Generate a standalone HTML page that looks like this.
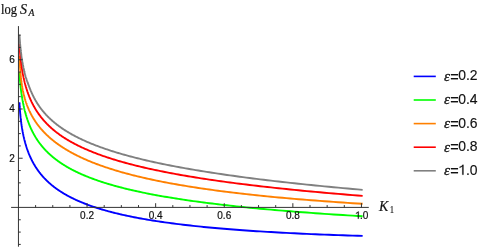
<!DOCTYPE html>
<html><head><meta charset="utf-8"><style>
html,body{margin:0;padding:0;background:#fff;}
svg{display:block;will-change:transform;opacity:0.999}
text{font-family:"Liberation Sans",sans-serif;}
.sf text{font-family:"Liberation Serif",serif;}
</style></head><body>
<svg width="486" height="249" viewBox="0 0 486 249">
<rect width="486" height="249" fill="#fff"/>
<g fill="none" stroke-width="1.9" stroke-linejoin="round" stroke-linecap="butt">
<path d="M19.41 102.31 L19.42 102.58 L19.44 102.85 L19.45 103.12 L19.47 103.39 L19.48 103.67 L19.50 103.94 L19.51 104.21 L19.53 104.48 L19.55 104.75 L19.56 105.02 L19.58 105.29 L19.60 105.57 L19.61 105.84 L19.63 106.11 L19.65 106.38 L19.67 106.65 L19.68 106.92 L19.70 107.20 L19.72 107.47 L19.74 107.74 L19.76 108.02 L19.78 108.29 L19.80 108.56 L19.82 108.84 L19.84 109.11 L19.86 109.39 L19.88 109.66 L19.90 109.94 L19.92 110.21 L19.94 110.49 L19.97 110.77 L19.99 111.05 L20.01 111.32 L20.04 111.60 L20.06 111.88 L20.08 112.16 L20.11 112.44 L20.13 112.72 L20.16 113.01 L20.18 113.29 L20.21 113.57 L20.23 113.85 L20.26 114.14 L20.29 114.42 L20.31 114.71 L20.34 114.99 L20.37 115.28 L20.40 115.57 L20.43 115.86 L20.46 116.15 L20.49 116.44 L20.52 116.73 L20.55 117.02 L20.58 117.31 L20.61 117.60 L20.64 117.89 L20.68 118.19 L20.71 118.48 L20.74 118.78 L20.78 119.08 L20.81 119.37 L20.85 119.67 L20.88 119.97 L20.92 120.27 L20.95 120.57 L20.99 120.87 L21.03 121.17 L21.07 121.48 L21.11 121.78 L21.15 122.08 L21.19 122.39 L21.23 122.70 L21.27 123.00 L21.31 123.31 L21.35 123.62 L21.39 123.93 L21.44 124.24 L21.48 124.55 L21.53 124.86 L21.57 125.18 L21.62 125.49 L21.67 125.81 L21.71 126.12 L21.76 126.44 L21.81 126.76 L21.86 127.08 L21.91 127.39 L21.96 127.71 L22.02 128.04 L22.07 128.36 L22.12 128.68 L22.18 129.00 L22.23 129.33 L22.29 129.65 L22.35 129.98 L22.40 130.31 L22.46 130.64 L22.52 130.97 L22.58 131.30 L22.64 131.63 L22.71 131.96 L22.77 132.29 L22.83 132.62 L22.90 132.96 L22.96 133.29 L23.03 133.63 L23.10 133.97 L23.17 134.30 L23.24 134.64 L23.31 134.98 L23.38 135.32 L23.46 135.67 L23.53 136.01 L23.61 136.35 L23.68 136.70 L23.76 137.04 L23.84 137.39 L23.92 137.73 L24.00 138.08 L24.08 138.43 L24.17 138.78 L24.25 139.13 L24.34 139.48 L24.42 139.83 L24.51 140.18 L24.60 140.54 L24.69 140.89 L24.79 141.25 L24.88 141.60 L24.98 141.96 L25.07 142.32 L25.17 142.68 L25.27 143.03 L25.37 143.39 L25.48 143.76 L25.58 144.12 L25.69 144.48 L25.79 144.84 L25.90 145.21 L26.01 145.57 L26.13 145.94 L26.24 146.30 L26.36 146.67 L26.47 147.04 L26.59 147.41 L26.71 147.78 L26.84 148.15 L26.96 148.52 L27.09 148.89 L27.21 149.26 L27.34 149.64 L27.48 150.01 L27.61 150.39 L27.75 150.76 L27.89 151.14 L28.03 151.52 L28.17 151.89 L28.31 152.27 L28.46 152.65 L28.61 153.03 L28.76 153.41 L28.91 153.79 L29.07 154.17 L29.22 154.55 L29.38 154.94 L29.55 155.32 L29.71 155.71 L29.88 156.09 L30.05 156.48 L30.22 156.86 L30.39 157.25 L30.57 157.64 L30.75 158.02 L30.93 158.41 L31.12 158.80 L31.31 159.19 L31.50 159.58 L31.69 159.97 L31.89 160.36 L32.09 160.75 L32.29 161.15 L32.50 161.54 L32.71 161.93 L32.92 162.33 L33.13 162.72 L33.35 163.12 L33.57 163.51 L33.80 163.91 L34.02 164.30 L34.26 164.70 L34.49 165.10 L34.73 165.49 L34.97 165.89 L35.22 166.29 L35.46 166.69 L35.72 167.09 L35.97 167.49 L36.23 167.89 L36.50 168.29 L36.77 168.69 L37.04 169.09 L37.31 169.49 L37.59 169.89 L37.88 170.29 L38.17 170.70 L38.46 171.10 L38.76 171.50 L39.06 171.90 L39.36 172.31 L39.68 172.71 L39.99 173.11 L40.31 173.52 L40.63 173.92 L40.96 174.33 L41.30 174.73 L41.64 175.14 L41.98 175.54 L42.33 175.95 L42.69 176.35 L43.05 176.76 L43.41 177.16 L43.78 177.57 L44.16 177.97 L44.54 178.38 L44.93 178.78 L45.32 179.19 L45.72 179.60 L46.12 180.00 L46.54 180.41 L46.95 180.81 L47.38 181.22 L47.81 181.62 L48.24 182.03 L48.68 182.44 L49.13 182.84 L49.59 183.25 L50.05 183.65 L50.52 184.06 L51.00 184.46 L51.48 184.87 L51.97 185.27 L52.47 185.68 L52.97 186.08 L53.49 186.49 L54.01 186.89 L54.53 187.30 L55.07 187.70 L55.61 188.11 L56.17 188.51 L56.73 188.91 L57.29 189.31 L57.87 189.72 L58.46 190.12 L59.05 190.52 L59.65 190.92 L60.27 191.32 L60.89 191.73 L61.52 192.13 L62.16 192.53 L62.81 192.93 L63.46 193.33 L64.13 193.72 L64.81 194.12 L65.50 194.52 L66.20 194.92 L66.91 195.31 L67.63 195.71 L68.36 196.11 L69.10 196.50 L69.85 196.90 L70.61 197.29 L71.39 197.68 L72.17 198.08 L72.97 198.47 L73.78 198.86 L74.60 199.25 L75.44 199.64 L76.28 200.03 L77.14 200.42 L78.01 200.81 L78.90 201.20 L79.80 201.58 L80.71 201.97 L81.63 202.35 L82.57 202.74 L83.52 203.12 L84.49 203.50 L85.47 203.88 L86.46 204.26 L87.47 204.64 L88.50 205.02 L89.54 205.40 L90.60 205.78 L91.67 206.15 L92.75 206.53 L93.86 206.90 L94.98 207.27 L96.11 207.64 L97.27 208.02 L98.44 208.38 L99.63 208.75 L100.83 209.12 L102.05 209.49 L103.30 209.85 L104.56 210.21 L105.83 210.58 L107.13 210.94 L108.45 211.30 L109.79 211.66 L111.14 212.01 L112.52 212.37 L113.92 212.72 L115.33 213.08 L116.77 213.43 L118.23 213.78 L119.71 214.13 L121.22 214.48 L122.74 214.82 L124.29 215.17 L125.86 215.51 L127.46 215.85 L129.08 216.19 L130.72 216.53 L132.39 216.87 L134.08 217.20 L135.80 217.53 L137.54 217.87 L139.31 218.20 L141.10 218.53 L142.92 218.85 L144.77 219.18 L146.65 219.50 L148.55 219.82 L150.48 220.14 L152.45 220.46 L154.44 220.78 L156.45 221.09 L158.50 221.40 L160.58 221.71 L162.69 222.02 L164.84 222.33 L167.01 222.63 L169.22 222.93 L171.46 223.23 L173.73 223.53 L176.03 223.83 L178.37 224.12 L180.75 224.42 L183.16 224.71 L185.60 224.99 L188.09 225.28 L190.61 225.56 L193.16 225.84 L195.76 226.12 L198.39 226.40 L201.06 226.67 L203.77 226.94 L206.53 227.21 L209.32 227.48 L212.15 227.75 L215.03 228.01 L217.95 228.27 L220.91 228.53 L223.92 228.78 L226.97 229.03 L230.07 229.28 L233.21 229.53 L236.40 229.77 L239.63 230.02 L242.92 230.26 L246.25 230.49 L249.64 230.73 L253.07 230.96 L256.55 231.19 L260.09 231.41 L263.68 231.63 L267.32 231.85 L271.01 232.07 L274.76 232.28 L278.57 232.50 L282.43 232.70 L286.35 232.91 L290.33 233.11 L294.37 233.31 L298.47 233.51 L302.63 233.70 L306.85 233.89 L311.13 234.08 L315.47 234.26 L319.89 234.44 L324.36 234.62 L328.90 234.79 L333.51 234.96 L338.19 235.13 L342.94 235.30 L347.76 235.46 L352.65 235.61 L357.61 235.77 L362.65 235.92" stroke="#0000ff"/>
<path d="M19.41 72.21 L19.42 72.48 L19.44 72.76 L19.45 73.03 L19.47 73.29 L19.48 73.56 L19.50 73.83 L19.51 74.09 L19.53 74.36 L19.55 74.62 L19.56 74.88 L19.58 75.14 L19.60 75.40 L19.61 75.66 L19.63 75.92 L19.65 76.18 L19.67 76.44 L19.68 76.70 L19.70 76.96 L19.72 77.22 L19.74 77.47 L19.76 77.73 L19.78 77.99 L19.80 78.25 L19.82 78.51 L19.84 78.76 L19.86 79.02 L19.88 79.28 L19.90 79.54 L19.92 79.80 L19.94 80.06 L19.97 80.32 L19.99 80.58 L20.01 80.85 L20.04 81.11 L20.06 81.37 L20.08 81.64 L20.11 81.90 L20.13 82.17 L20.16 82.43 L20.18 82.70 L20.21 82.97 L20.23 83.24 L20.26 83.51 L20.29 83.78 L20.31 84.05 L20.34 84.32 L20.37 84.60 L20.40 84.87 L20.43 85.15 L20.46 85.43 L20.49 85.70 L20.52 85.98 L20.55 86.26 L20.58 86.54 L20.61 86.83 L20.64 87.11 L20.68 87.40 L20.71 87.68 L20.74 87.97 L20.78 88.26 L20.81 88.55 L20.85 88.84 L20.88 89.13 L20.92 89.42 L20.95 89.72 L20.99 90.01 L21.03 90.31 L21.07 90.61 L21.11 90.91 L21.15 91.21 L21.19 91.51 L21.23 91.81 L21.27 92.11 L21.31 92.42 L21.35 92.73 L21.39 93.03 L21.44 93.34 L21.48 93.65 L21.53 93.96 L21.57 94.28 L21.62 94.59 L21.67 94.91 L21.71 95.22 L21.76 95.54 L21.81 95.86 L21.86 96.18 L21.91 96.50 L21.96 96.82 L22.02 97.15 L22.07 97.47 L22.12 97.80 L22.18 98.12 L22.23 98.45 L22.29 98.78 L22.35 99.11 L22.40 99.45 L22.46 99.78 L22.52 100.11 L22.58 100.45 L22.64 100.79 L22.71 101.12 L22.77 101.46 L22.83 101.80 L22.90 102.14 L22.96 102.49 L23.03 102.83 L23.10 103.18 L23.17 103.52 L23.24 103.87 L23.31 104.22 L23.38 104.57 L23.46 104.92 L23.53 105.27 L23.61 105.62 L23.68 105.97 L23.76 106.33 L23.84 106.69 L23.92 107.04 L24.00 107.40 L24.08 107.76 L24.17 108.12 L24.25 108.48 L24.34 108.84 L24.42 109.21 L24.51 109.57 L24.60 109.93 L24.69 110.30 L24.79 110.67 L24.88 111.04 L24.98 111.40 L25.07 111.77 L25.17 112.15 L25.27 112.52 L25.37 112.89 L25.48 113.26 L25.58 113.64 L25.69 114.01 L25.79 114.39 L25.90 114.77 L26.01 115.15 L26.13 115.52 L26.24 115.90 L26.36 116.28 L26.47 116.67 L26.59 117.05 L26.71 117.43 L26.84 117.82 L26.96 118.20 L27.09 118.59 L27.21 118.97 L27.34 119.36 L27.48 119.75 L27.61 120.14 L27.75 120.53 L27.89 120.92 L28.03 121.31 L28.17 121.70 L28.31 122.09 L28.46 122.49 L28.61 122.88 L28.76 123.27 L28.91 123.67 L29.07 124.07 L29.22 124.46 L29.38 124.86 L29.55 125.26 L29.71 125.66 L29.88 126.06 L30.05 126.46 L30.22 126.86 L30.39 127.26 L30.57 127.66 L30.75 128.06 L30.93 128.47 L31.12 128.87 L31.31 129.27 L31.50 129.68 L31.69 130.08 L31.89 130.49 L32.09 130.90 L32.29 131.30 L32.50 131.71 L32.71 132.12 L32.92 132.53 L33.13 132.93 L33.35 133.34 L33.57 133.75 L33.80 134.16 L34.02 134.57 L34.26 134.99 L34.49 135.40 L34.73 135.81 L34.97 136.22 L35.22 136.63 L35.46 137.05 L35.72 137.46 L35.97 137.87 L36.23 138.29 L36.50 138.70 L36.77 139.12 L37.04 139.53 L37.31 139.95 L37.59 140.37 L37.88 140.78 L38.17 141.20 L38.46 141.62 L38.76 142.03 L39.06 142.45 L39.36 142.87 L39.68 143.29 L39.99 143.70 L40.31 144.12 L40.63 144.54 L40.96 144.96 L41.30 145.38 L41.64 145.80 L41.98 146.22 L42.33 146.64 L42.69 147.06 L43.05 147.48 L43.41 147.90 L43.78 148.32 L44.16 148.74 L44.54 149.16 L44.93 149.58 L45.32 150.00 L45.72 150.42 L46.12 150.84 L46.54 151.26 L46.95 151.68 L47.38 152.11 L47.81 152.53 L48.24 152.95 L48.68 153.37 L49.13 153.79 L49.59 154.21 L50.05 154.63 L50.52 155.05 L51.00 155.48 L51.48 155.90 L51.97 156.32 L52.47 156.74 L52.97 157.16 L53.49 157.58 L54.01 158.00 L54.53 158.42 L55.07 158.85 L55.61 159.27 L56.17 159.69 L56.73 160.11 L57.29 160.53 L57.87 160.95 L58.46 161.37 L59.05 161.79 L59.65 162.21 L60.27 162.63 L60.89 163.05 L61.52 163.47 L62.16 163.89 L62.81 164.30 L63.46 164.72 L64.13 165.14 L64.81 165.56 L65.50 165.98 L66.20 166.40 L66.91 166.81 L67.63 167.23 L68.36 167.65 L69.10 168.06 L69.85 168.48 L70.61 168.90 L71.39 169.31 L72.17 169.73 L72.97 170.14 L73.78 170.56 L74.60 170.97 L75.44 171.39 L76.28 171.80 L77.14 172.21 L78.01 172.63 L78.90 173.04 L79.80 173.45 L80.71 173.86 L81.63 174.27 L82.57 174.68 L83.52 175.09 L84.49 175.50 L85.47 175.91 L86.46 176.32 L87.47 176.73 L88.50 177.14 L89.54 177.55 L90.60 177.95 L91.67 178.36 L92.75 178.76 L93.86 179.17 L94.98 179.57 L96.11 179.98 L97.27 180.38 L98.44 180.79 L99.63 181.19 L100.83 181.59 L102.05 181.99 L103.30 182.39 L104.56 182.79 L105.83 183.19 L107.13 183.59 L108.45 183.99 L109.79 184.38 L111.14 184.78 L112.52 185.18 L113.92 185.57 L115.33 185.97 L116.77 186.36 L118.23 186.75 L119.71 187.15 L121.22 187.54 L122.74 187.93 L124.29 188.32 L125.86 188.71 L127.46 189.10 L129.08 189.49 L130.72 189.87 L132.39 190.26 L134.08 190.64 L135.80 191.03 L137.54 191.41 L139.31 191.80 L141.10 192.18 L142.92 192.56 L144.77 192.94 L146.65 193.32 L148.55 193.70 L150.48 194.08 L152.45 194.45 L154.44 194.83 L156.45 195.20 L158.50 195.58 L160.58 195.95 L162.69 196.32 L164.84 196.69 L167.01 197.06 L169.22 197.43 L171.46 197.80 L173.73 198.17 L176.03 198.54 L178.37 198.90 L180.75 199.27 L183.16 199.63 L185.60 199.99 L188.09 200.35 L190.61 200.71 L193.16 201.07 L195.76 201.43 L198.39 201.79 L201.06 202.14 L203.77 202.50 L206.53 202.85 L209.32 203.20 L212.15 203.55 L215.03 203.90 L217.95 204.25 L220.91 204.60 L223.92 204.95 L226.97 205.29 L230.07 205.64 L233.21 205.98 L236.40 206.32 L239.63 206.66 L242.92 207.00 L246.25 207.34 L249.64 207.68 L253.07 208.01 L256.55 208.35 L260.09 208.68 L263.68 209.01 L267.32 209.34 L271.01 209.67 L274.76 210.00 L278.57 210.33 L282.43 210.65 L286.35 210.97 L290.33 211.30 L294.37 211.62 L298.47 211.94 L302.63 212.26 L306.85 212.57 L311.13 212.89 L315.47 213.20 L319.89 213.52 L324.36 213.83 L328.90 214.14 L333.51 214.45 L338.19 214.75 L342.94 215.06 L347.76 215.36 L352.65 215.66 L357.61 215.97 L362.65 216.27" stroke="#00ff00"/>
<path d="M19.41 55.68 L19.42 56.00 L19.44 56.31 L19.45 56.64 L19.47 56.96 L19.48 57.29 L19.50 57.61 L19.51 57.94 L19.53 58.28 L19.55 58.61 L19.56 58.95 L19.58 59.28 L19.60 59.62 L19.61 59.96 L19.63 60.30 L19.65 60.65 L19.67 60.99 L19.68 61.33 L19.70 61.68 L19.72 62.02 L19.74 62.37 L19.76 62.72 L19.78 63.06 L19.80 63.41 L19.82 63.76 L19.84 64.11 L19.86 64.46 L19.88 64.80 L19.90 65.15 L19.92 65.50 L19.94 65.85 L19.97 66.20 L19.99 66.55 L20.01 66.90 L20.04 67.24 L20.06 67.59 L20.08 67.94 L20.11 68.29 L20.13 68.63 L20.16 68.98 L20.18 69.33 L20.21 69.67 L20.23 70.02 L20.26 70.36 L20.29 70.71 L20.31 71.05 L20.34 71.40 L20.37 71.74 L20.40 72.08 L20.43 72.43 L20.46 72.77 L20.49 73.11 L20.52 73.45 L20.55 73.79 L20.58 74.13 L20.61 74.47 L20.64 74.81 L20.68 75.15 L20.71 75.49 L20.74 75.82 L20.78 76.16 L20.81 76.50 L20.85 76.83 L20.88 77.17 L20.92 77.50 L20.95 77.84 L20.99 78.17 L21.03 78.51 L21.07 78.84 L21.11 79.17 L21.15 79.50 L21.19 79.83 L21.23 80.17 L21.27 80.50 L21.31 80.83 L21.35 81.16 L21.39 81.49 L21.44 81.81 L21.48 82.14 L21.53 82.47 L21.57 82.80 L21.62 83.13 L21.67 83.45 L21.71 83.78 L21.76 84.11 L21.81 84.43 L21.86 84.76 L21.91 85.09 L21.96 85.41 L22.02 85.74 L22.07 86.06 L22.12 86.39 L22.18 86.71 L22.23 87.04 L22.29 87.36 L22.35 87.68 L22.40 88.01 L22.46 88.33 L22.52 88.66 L22.58 88.98 L22.64 89.30 L22.71 89.63 L22.77 89.95 L22.83 90.27 L22.90 90.60 L22.96 90.92 L23.03 91.24 L23.10 91.57 L23.17 91.89 L23.24 92.21 L23.31 92.54 L23.38 92.86 L23.46 93.19 L23.53 93.51 L23.61 93.83 L23.68 94.16 L23.76 94.48 L23.84 94.81 L23.92 95.13 L24.00 95.46 L24.08 95.78 L24.17 96.11 L24.25 96.43 L24.34 96.76 L24.42 97.08 L24.51 97.41 L24.60 97.74 L24.69 98.06 L24.79 98.39 L24.88 98.72 L24.98 99.05 L25.07 99.37 L25.17 99.70 L25.27 100.03 L25.37 100.36 L25.48 100.69 L25.58 101.02 L25.69 101.35 L25.79 101.68 L25.90 102.01 L26.01 102.35 L26.13 102.68 L26.24 103.01 L26.36 103.34 L26.47 103.68 L26.59 104.01 L26.71 104.35 L26.84 104.68 L26.96 105.02 L27.09 105.36 L27.21 105.69 L27.34 106.03 L27.48 106.37 L27.61 106.71 L27.75 107.05 L27.89 107.39 L28.03 107.73 L28.17 108.07 L28.31 108.41 L28.46 108.76 L28.61 109.10 L28.76 109.44 L28.91 109.79 L29.07 110.13 L29.22 110.48 L29.38 110.83 L29.55 111.17 L29.71 111.52 L29.88 111.87 L30.05 112.22 L30.22 112.57 L30.39 112.92 L30.57 113.28 L30.75 113.63 L30.93 113.98 L31.12 114.34 L31.31 114.69 L31.50 115.05 L31.69 115.41 L31.89 115.76 L32.09 116.12 L32.29 116.48 L32.50 116.84 L32.71 117.20 L32.92 117.56 L33.13 117.93 L33.35 118.29 L33.57 118.65 L33.80 119.02 L34.02 119.38 L34.26 119.75 L34.49 120.12 L34.73 120.49 L34.97 120.85 L35.22 121.22 L35.46 121.60 L35.72 121.97 L35.97 122.34 L36.23 122.71 L36.50 123.09 L36.77 123.46 L37.04 123.84 L37.31 124.22 L37.59 124.59 L37.88 124.97 L38.17 125.35 L38.46 125.73 L38.76 126.11 L39.06 126.49 L39.36 126.88 L39.68 127.26 L39.99 127.65 L40.31 128.03 L40.63 128.42 L40.96 128.81 L41.30 129.19 L41.64 129.58 L41.98 129.97 L42.33 130.36 L42.69 130.75 L43.05 131.15 L43.41 131.54 L43.78 131.93 L44.16 132.33 L44.54 132.72 L44.93 133.12 L45.32 133.52 L45.72 133.92 L46.12 134.31 L46.54 134.71 L46.95 135.12 L47.38 135.52 L47.81 135.92 L48.24 136.32 L48.68 136.73 L49.13 137.13 L49.59 137.54 L50.05 137.94 L50.52 138.35 L51.00 138.76 L51.48 139.16 L51.97 139.57 L52.47 139.98 L52.97 140.39 L53.49 140.80 L54.01 141.22 L54.53 141.63 L55.07 142.04 L55.61 142.46 L56.17 142.87 L56.73 143.29 L57.29 143.70 L57.87 144.12 L58.46 144.54 L59.05 144.96 L59.65 145.37 L60.27 145.79 L60.89 146.21 L61.52 146.63 L62.16 147.06 L62.81 147.48 L63.46 147.90 L64.13 148.32 L64.81 148.75 L65.50 149.17 L66.20 149.59 L66.91 150.02 L67.63 150.44 L68.36 150.87 L69.10 151.30 L69.85 151.72 L70.61 152.15 L71.39 152.58 L72.17 153.01 L72.97 153.44 L73.78 153.86 L74.60 154.29 L75.44 154.72 L76.28 155.15 L77.14 155.58 L78.01 156.01 L78.90 156.45 L79.80 156.88 L80.71 157.31 L81.63 157.74 L82.57 158.17 L83.52 158.61 L84.49 159.04 L85.47 159.47 L86.46 159.90 L87.47 160.34 L88.50 160.77 L89.54 161.20 L90.60 161.64 L91.67 162.07 L92.75 162.51 L93.86 162.94 L94.98 163.37 L96.11 163.81 L97.27 164.24 L98.44 164.68 L99.63 165.11 L100.83 165.54 L102.05 165.98 L103.30 166.41 L104.56 166.85 L105.83 167.28 L107.13 167.71 L108.45 168.15 L109.79 168.58 L111.14 169.01 L112.52 169.45 L113.92 169.88 L115.33 170.31 L116.77 170.74 L118.23 171.18 L119.71 171.61 L121.22 172.04 L122.74 172.47 L124.29 172.90 L125.86 173.33 L127.46 173.76 L129.08 174.19 L130.72 174.62 L132.39 175.05 L134.08 175.47 L135.80 175.90 L137.54 176.33 L139.31 176.75 L141.10 177.18 L142.92 177.60 L144.77 178.03 L146.65 178.45 L148.55 178.87 L150.48 179.30 L152.45 179.72 L154.44 180.14 L156.45 180.56 L158.50 180.98 L160.58 181.39 L162.69 181.81 L164.84 182.23 L167.01 182.64 L169.22 183.06 L171.46 183.47 L173.73 183.88 L176.03 184.29 L178.37 184.70 L180.75 185.11 L183.16 185.52 L185.60 185.93 L188.09 186.33 L190.61 186.74 L193.16 187.14 L195.76 187.54 L198.39 187.94 L201.06 188.34 L203.77 188.74 L206.53 189.14 L209.32 189.53 L212.15 189.93 L215.03 190.32 L217.95 190.71 L220.91 191.10 L223.92 191.48 L226.97 191.87 L230.07 192.25 L233.21 192.64 L236.40 193.02 L239.63 193.40 L242.92 193.77 L246.25 194.15 L249.64 194.52 L253.07 194.90 L256.55 195.27 L260.09 195.63 L263.68 196.00 L267.32 196.36 L271.01 196.73 L274.76 197.09 L278.57 197.45 L282.43 197.80 L286.35 198.15 L290.33 198.51 L294.37 198.86 L298.47 199.20 L302.63 199.55 L306.85 199.89 L311.13 200.23 L315.47 200.57 L319.89 200.90 L324.36 201.24 L328.90 201.57 L333.51 201.89 L338.19 202.22 L342.94 202.54 L347.76 202.86 L352.65 203.18 L357.61 203.49 L362.65 203.81" stroke="#ff8000"/>
<path d="M19.41 43.59 L19.42 43.85 L19.44 44.10 L19.45 44.35 L19.47 44.61 L19.48 44.86 L19.50 45.12 L19.51 45.37 L19.53 45.63 L19.55 45.88 L19.56 46.14 L19.58 46.39 L19.60 46.65 L19.61 46.91 L19.63 47.16 L19.65 47.42 L19.67 47.68 L19.68 47.94 L19.70 48.20 L19.72 48.46 L19.74 48.72 L19.76 48.98 L19.78 49.24 L19.80 49.50 L19.82 49.77 L19.84 50.03 L19.86 50.30 L19.88 50.56 L19.90 50.83 L19.92 51.10 L19.94 51.36 L19.97 51.63 L19.99 51.90 L20.01 52.17 L20.04 52.45 L20.06 52.72 L20.08 52.99 L20.11 53.27 L20.13 53.54 L20.16 53.82 L20.18 54.10 L20.21 54.37 L20.23 54.65 L20.26 54.93 L20.29 55.22 L20.31 55.50 L20.34 55.78 L20.37 56.07 L20.40 56.35 L20.43 56.64 L20.46 56.93 L20.49 57.22 L20.52 57.51 L20.55 57.80 L20.58 58.09 L20.61 58.38 L20.64 58.68 L20.68 58.97 L20.71 59.27 L20.74 59.57 L20.78 59.87 L20.81 60.17 L20.85 60.47 L20.88 60.77 L20.92 61.07 L20.95 61.38 L20.99 61.68 L21.03 61.99 L21.07 62.29 L21.11 62.60 L21.15 62.91 L21.19 63.22 L21.23 63.54 L21.27 63.85 L21.31 64.16 L21.35 64.48 L21.39 64.79 L21.44 65.11 L21.48 65.43 L21.53 65.75 L21.57 66.07 L21.62 66.39 L21.67 66.71 L21.71 67.04 L21.76 67.36 L21.81 67.69 L21.86 68.02 L21.91 68.34 L21.96 68.67 L22.02 69.00 L22.07 69.34 L22.12 69.67 L22.18 70.00 L22.23 70.34 L22.29 70.67 L22.35 71.01 L22.40 71.35 L22.46 71.68 L22.52 72.02 L22.58 72.36 L22.64 72.71 L22.71 73.05 L22.77 73.39 L22.83 73.74 L22.90 74.08 L22.96 74.43 L23.03 74.78 L23.10 75.13 L23.17 75.48 L23.24 75.83 L23.31 76.18 L23.38 76.53 L23.46 76.88 L23.53 77.24 L23.61 77.59 L23.68 77.95 L23.76 78.31 L23.84 78.67 L23.92 79.02 L24.00 79.38 L24.08 79.75 L24.17 80.11 L24.25 80.47 L24.34 80.83 L24.42 81.20 L24.51 81.56 L24.60 81.93 L24.69 82.30 L24.79 82.67 L24.88 83.04 L24.98 83.41 L25.07 83.78 L25.17 84.15 L25.27 84.52 L25.37 84.90 L25.48 85.27 L25.58 85.64 L25.69 86.02 L25.79 86.40 L25.90 86.78 L26.01 87.15 L26.13 87.53 L26.24 87.91 L26.36 88.29 L26.47 88.68 L26.59 89.06 L26.71 89.44 L26.84 89.83 L26.96 90.21 L27.09 90.60 L27.21 90.98 L27.34 91.37 L27.48 91.76 L27.61 92.15 L27.75 92.54 L27.89 92.93 L28.03 93.32 L28.17 93.71 L28.31 94.10 L28.46 94.49 L28.61 94.89 L28.76 95.28 L28.91 95.68 L29.07 96.07 L29.22 96.47 L29.38 96.87 L29.55 97.26 L29.71 97.66 L29.88 98.06 L30.05 98.46 L30.22 98.86 L30.39 99.26 L30.57 99.66 L30.75 100.07 L30.93 100.47 L31.12 100.87 L31.31 101.28 L31.50 101.68 L31.69 102.09 L31.89 102.49 L32.09 102.90 L32.29 103.31 L32.50 103.72 L32.71 104.12 L32.92 104.53 L33.13 104.94 L33.35 105.35 L33.57 105.76 L33.80 106.18 L34.02 106.59 L34.26 107.00 L34.49 107.41 L34.73 107.83 L34.97 108.24 L35.22 108.65 L35.46 109.07 L35.72 109.48 L35.97 109.90 L36.23 110.32 L36.50 110.73 L36.77 111.15 L37.04 111.57 L37.31 111.99 L37.59 112.40 L37.88 112.82 L38.17 113.24 L38.46 113.66 L38.76 114.08 L39.06 114.51 L39.36 114.93 L39.68 115.35 L39.99 115.77 L40.31 116.19 L40.63 116.62 L40.96 117.04 L41.30 117.46 L41.64 117.89 L41.98 118.31 L42.33 118.74 L42.69 119.16 L43.05 119.59 L43.41 120.01 L43.78 120.44 L44.16 120.87 L44.54 121.29 L44.93 121.72 L45.32 122.15 L45.72 122.58 L46.12 123.00 L46.54 123.43 L46.95 123.86 L47.38 124.29 L47.81 124.72 L48.24 125.15 L48.68 125.58 L49.13 126.01 L49.59 126.44 L50.05 126.87 L50.52 127.30 L51.00 127.74 L51.48 128.17 L51.97 128.60 L52.47 129.03 L52.97 129.46 L53.49 129.90 L54.01 130.33 L54.53 130.76 L55.07 131.19 L55.61 131.63 L56.17 132.06 L56.73 132.49 L57.29 132.93 L57.87 133.36 L58.46 133.80 L59.05 134.23 L59.65 134.67 L60.27 135.10 L60.89 135.54 L61.52 135.97 L62.16 136.41 L62.81 136.84 L63.46 137.28 L64.13 137.71 L64.81 138.15 L65.50 138.58 L66.20 139.02 L66.91 139.45 L67.63 139.89 L68.36 140.33 L69.10 140.76 L69.85 141.20 L70.61 141.63 L71.39 142.07 L72.17 142.51 L72.97 142.94 L73.78 143.38 L74.60 143.82 L75.44 144.25 L76.28 144.69 L77.14 145.13 L78.01 145.56 L78.90 146.00 L79.80 146.44 L80.71 146.87 L81.63 147.31 L82.57 147.75 L83.52 148.18 L84.49 148.62 L85.47 149.05 L86.46 149.49 L87.47 149.93 L88.50 150.36 L89.54 150.80 L90.60 151.24 L91.67 151.67 L92.75 152.11 L93.86 152.54 L94.98 152.98 L96.11 153.41 L97.27 153.85 L98.44 154.29 L99.63 154.72 L100.83 155.16 L102.05 155.59 L103.30 156.03 L104.56 156.46 L105.83 156.90 L107.13 157.33 L108.45 157.76 L109.79 158.20 L111.14 158.63 L112.52 159.07 L113.92 159.50 L115.33 159.93 L116.77 160.37 L118.23 160.80 L119.71 161.23 L121.22 161.67 L122.74 162.10 L124.29 162.53 L125.86 162.96 L127.46 163.39 L129.08 163.83 L130.72 164.26 L132.39 164.69 L134.08 165.12 L135.80 165.55 L137.54 165.98 L139.31 166.41 L141.10 166.84 L142.92 167.27 L144.77 167.70 L146.65 168.13 L148.55 168.56 L150.48 168.98 L152.45 169.41 L154.44 169.84 L156.45 170.27 L158.50 170.69 L160.58 171.12 L162.69 171.55 L164.84 171.97 L167.01 172.40 L169.22 172.82 L171.46 173.25 L173.73 173.67 L176.03 174.10 L178.37 174.52 L180.75 174.94 L183.16 175.37 L185.60 175.79 L188.09 176.21 L190.61 176.63 L193.16 177.06 L195.76 177.48 L198.39 177.90 L201.06 178.32 L203.77 178.74 L206.53 179.15 L209.32 179.57 L212.15 179.99 L215.03 180.41 L217.95 180.83 L220.91 181.24 L223.92 181.66 L226.97 182.08 L230.07 182.49 L233.21 182.91 L236.40 183.32 L239.63 183.73 L242.92 184.15 L246.25 184.56 L249.64 184.97 L253.07 185.38 L256.55 185.79 L260.09 186.21 L263.68 186.62 L267.32 187.02 L271.01 187.43 L274.76 187.84 L278.57 188.25 L282.43 188.66 L286.35 189.06 L290.33 189.47 L294.37 189.87 L298.47 190.28 L302.63 190.68 L306.85 191.09 L311.13 191.49 L315.47 191.89 L319.89 192.29 L324.36 192.69 L328.90 193.09 L333.51 193.49 L338.19 193.89 L342.94 194.29 L347.76 194.69 L352.65 195.09 L357.61 195.48 L362.65 195.88" stroke="#ff0000"/>
<path d="M19.44 34.71 L19.44 34.75 L19.45 35.00 L19.47 35.26 L19.48 35.51 L19.50 35.77 L19.51 36.02 L19.53 36.28 L19.55 36.53 L19.56 36.79 L19.58 37.04 L19.60 37.30 L19.61 37.56 L19.63 37.81 L19.65 38.07 L19.67 38.33 L19.68 38.59 L19.70 38.85 L19.72 39.11 L19.74 39.37 L19.76 39.63 L19.78 39.89 L19.80 40.15 L19.82 40.42 L19.84 40.68 L19.86 40.95 L19.88 41.21 L19.90 41.48 L19.92 41.75 L19.94 42.01 L19.97 42.28 L19.99 42.55 L20.01 42.82 L20.04 43.10 L20.06 43.37 L20.08 43.64 L20.11 43.92 L20.13 44.19 L20.16 44.47 L20.18 44.75 L20.21 45.02 L20.23 45.30 L20.26 45.58 L20.29 45.87 L20.31 46.15 L20.34 46.43 L20.37 46.72 L20.40 47.00 L20.43 47.29 L20.46 47.58 L20.49 47.87 L20.52 48.16 L20.55 48.45 L20.58 48.74 L20.61 49.03 L20.64 49.33 L20.68 49.62 L20.71 49.92 L20.74 50.22 L20.78 50.52 L20.81 50.82 L20.85 51.12 L20.88 51.42 L20.92 51.72 L20.95 52.03 L20.99 52.33 L21.03 52.64 L21.07 52.94 L21.11 53.25 L21.15 53.56 L21.19 53.87 L21.23 54.19 L21.27 54.50 L21.31 54.81 L21.35 55.13 L21.39 55.44 L21.44 55.76 L21.48 56.08 L21.53 56.40 L21.57 56.72 L21.62 57.04 L21.67 57.36 L21.71 57.69 L21.76 58.01 L21.81 58.34 L21.86 58.67 L21.91 58.99 L21.96 59.32 L22.02 59.65 L22.07 59.99 L22.12 60.32 L22.18 60.65 L22.23 60.99 L22.29 61.32 L22.35 61.66 L22.40 62.00 L22.46 62.33 L22.52 62.67 L22.58 63.01 L22.64 63.36 L22.71 63.70 L22.77 64.04 L22.83 64.39 L22.90 64.73 L22.96 65.08 L23.03 65.43 L23.10 65.78 L23.17 66.13 L23.24 66.48 L23.31 66.83 L23.38 67.18 L23.46 67.53 L23.53 67.89 L23.61 68.24 L23.68 68.60 L23.76 68.96 L23.84 69.32 L23.92 69.67 L24.00 70.03 L24.08 70.40 L24.17 70.76 L24.25 71.12 L24.34 71.48 L24.42 71.85 L24.51 72.21 L24.60 72.58 L24.69 72.95 L24.79 73.32 L24.88 73.69 L24.98 74.06 L25.07 74.43 L25.17 74.80 L25.27 75.17 L25.37 75.54 L25.48 75.91 L25.58 76.28 L25.69 76.64 L25.79 77.00 L25.90 77.36 L26.01 77.72 L26.13 78.07 L26.24 78.43 L26.36 78.78 L26.47 79.14 L26.59 79.50 L26.71 79.86 L26.84 80.22 L26.96 80.59 L27.09 80.95 L27.21 81.32 L27.34 81.69 L27.48 82.07 L27.61 82.45 L27.75 82.83 L27.89 83.21 L28.03 83.60 L28.17 83.99 L28.31 84.38 L28.46 84.78 L28.61 85.18 L28.76 85.58 L28.91 85.99 L29.07 86.40 L29.22 86.81 L29.38 87.23 L29.55 87.65 L29.71 88.07 L29.88 88.50 L30.05 88.92 L30.22 89.35 L30.39 89.78 L30.57 90.22 L30.75 90.65 L30.93 91.09 L31.12 91.52 L31.31 91.96 L31.50 92.40 L31.69 92.84 L31.89 93.28 L32.09 93.72 L32.29 94.16 L32.50 94.60 L32.71 95.04 L32.92 95.48 L33.13 95.91 L33.35 96.35 L33.57 96.79 L33.80 97.23 L34.02 97.67 L34.26 98.11 L34.49 98.55 L34.73 98.99 L34.97 99.43 L35.22 99.87 L35.46 100.30 L35.72 100.74 L35.97 101.18 L36.23 101.62 L36.50 102.06 L36.77 102.50 L37.04 102.94 L37.31 103.38 L37.59 103.82 L37.88 104.26 L38.17 104.69 L38.46 105.13 L38.76 105.57 L39.06 106.01 L39.36 106.45 L39.68 106.89 L39.99 107.33 L40.31 107.77 L40.63 108.21 L40.96 108.65 L41.30 109.08 L41.64 109.52 L41.98 109.96 L42.33 110.40 L42.69 110.84 L43.05 111.28 L43.41 111.72 L43.78 112.16 L44.16 112.60 L44.54 113.04 L44.93 113.48 L45.32 113.91 L45.72 114.35 L46.12 114.79 L46.54 115.23 L46.95 115.67 L47.38 116.11 L47.81 116.55 L48.24 116.99 L48.68 117.43 L49.13 117.87 L49.59 118.30 L50.05 118.74 L50.52 119.18 L51.00 119.62 L51.48 120.06 L51.97 120.50 L52.47 120.94 L52.97 121.38 L53.49 121.82 L54.01 122.26 L54.53 122.69 L55.07 123.13 L55.61 123.57 L56.17 124.01 L56.73 124.45 L57.29 124.89 L57.87 125.33 L58.46 125.77 L59.05 126.21 L59.65 126.65 L60.27 127.08 L60.89 127.52 L61.52 127.96 L62.16 128.40 L62.81 128.84 L63.46 129.28 L64.13 129.72 L64.81 130.16 L65.50 130.60 L66.20 131.04 L66.91 131.47 L67.63 131.91 L68.36 132.35 L69.10 132.79 L69.85 133.23 L70.61 133.67 L71.39 134.11 L72.17 134.55 L72.97 134.99 L73.78 135.43 L74.60 135.86 L75.44 136.30 L76.28 136.74 L77.14 137.18 L78.01 137.62 L78.90 138.06 L79.80 138.50 L80.71 138.94 L81.63 139.38 L82.57 139.82 L83.52 140.25 L84.49 140.69 L85.47 141.13 L86.46 141.57 L87.47 142.01 L88.50 142.45 L89.54 142.89 L90.60 143.33 L91.67 143.77 L92.75 144.21 L93.86 144.64 L94.98 145.08 L96.11 145.52 L97.27 145.96 L98.44 146.40 L99.63 146.84 L100.83 147.28 L102.05 147.72 L103.30 148.16 L104.56 148.60 L105.83 149.03 L107.13 149.47 L108.45 149.91 L109.79 150.35 L111.14 150.79 L112.52 151.23 L113.92 151.67 L115.33 152.11 L116.77 152.55 L118.23 152.99 L119.71 153.42 L121.22 153.86 L122.74 154.30 L124.29 154.74 L125.86 155.18 L127.46 155.62 L129.08 156.06 L130.72 156.50 L132.39 156.94 L134.08 157.38 L135.80 157.81 L137.54 158.25 L139.31 158.69 L141.10 159.13 L142.92 159.57 L144.77 160.01 L146.65 160.45 L148.55 160.89 L150.48 161.33 L152.45 161.77 L154.44 162.20 L156.45 162.64 L158.50 163.08 L160.58 163.52 L162.69 163.96 L164.84 164.40 L167.01 164.84 L169.22 165.28 L171.46 165.72 L173.73 166.16 L176.03 166.60 L178.37 167.03 L180.75 167.47 L183.16 167.91 L185.60 168.35 L188.09 168.79 L190.61 169.23 L193.16 169.67 L195.76 170.11 L198.39 170.55 L201.06 170.99 L203.77 171.42 L206.53 171.86 L209.32 172.30 L212.15 172.74 L215.03 173.18 L217.95 173.62 L220.91 174.06 L223.92 174.50 L226.97 174.94 L230.07 175.38 L233.21 175.81 L236.40 176.25 L239.63 176.69 L242.92 177.13 L246.25 177.57 L249.64 178.01 L253.07 178.45 L256.55 178.89 L260.09 179.33 L263.68 179.77 L267.32 180.20 L271.01 180.64 L274.76 181.08 L278.57 181.52 L282.43 181.96 L286.35 182.40 L290.33 182.84 L294.37 183.28 L298.47 183.72 L302.63 184.16 L306.85 184.59 L311.13 185.03 L315.47 185.47 L319.89 185.91 L324.36 186.35 L328.90 186.79 L333.51 187.23 L338.19 187.67 L342.94 188.11 L347.76 188.55 L352.65 188.98 L357.61 189.42 L362.65 189.86" stroke="#808080"/>
</g>
<g stroke="#333" stroke-width="1" fill="none">
<line x1="11.1" y1="207.40" x2="368.8" y2="207.40"/>
<line x1="18.45" y1="26.1" x2="18.45" y2="246.7"/>
<line x1="35.60" y1="207.40" x2="35.60" y2="205.10"/>
<line x1="52.75" y1="207.40" x2="52.75" y2="205.10"/>
<line x1="69.90" y1="207.40" x2="69.90" y2="205.10"/>
<line x1="87.05" y1="207.40" x2="87.05" y2="203.20"/>
<line x1="104.20" y1="207.40" x2="104.20" y2="205.10"/>
<line x1="121.35" y1="207.40" x2="121.35" y2="205.10"/>
<line x1="138.50" y1="207.40" x2="138.50" y2="205.10"/>
<line x1="155.65" y1="207.40" x2="155.65" y2="203.20"/>
<line x1="172.80" y1="207.40" x2="172.80" y2="205.10"/>
<line x1="189.95" y1="207.40" x2="189.95" y2="205.10"/>
<line x1="207.10" y1="207.40" x2="207.10" y2="205.10"/>
<line x1="224.25" y1="207.40" x2="224.25" y2="203.20"/>
<line x1="241.40" y1="207.40" x2="241.40" y2="205.10"/>
<line x1="258.55" y1="207.40" x2="258.55" y2="205.10"/>
<line x1="275.70" y1="207.40" x2="275.70" y2="205.10"/>
<line x1="292.85" y1="207.40" x2="292.85" y2="203.20"/>
<line x1="310.00" y1="207.40" x2="310.00" y2="205.10"/>
<line x1="327.15" y1="207.40" x2="327.15" y2="205.10"/>
<line x1="344.30" y1="207.40" x2="344.30" y2="205.10"/>
<line x1="361.45" y1="207.40" x2="361.45" y2="203.20"/>
<line x1="18.45" y1="244.40" x2="20.75" y2="244.40"/>
<line x1="18.45" y1="232.09" x2="20.75" y2="232.09"/>
<line x1="18.45" y1="219.78" x2="20.75" y2="219.78"/>
<line x1="18.45" y1="195.16" x2="20.75" y2="195.16"/>
<line x1="18.45" y1="182.85" x2="20.75" y2="182.85"/>
<line x1="18.45" y1="170.54" x2="20.75" y2="170.54"/>
<line x1="18.45" y1="158.23" x2="22.65" y2="158.23"/>
<line x1="18.45" y1="145.92" x2="20.75" y2="145.92"/>
<line x1="18.45" y1="133.61" x2="20.75" y2="133.61"/>
<line x1="18.45" y1="121.30" x2="20.75" y2="121.30"/>
<line x1="18.45" y1="108.99" x2="22.65" y2="108.99"/>
<line x1="18.45" y1="96.68" x2="20.75" y2="96.68"/>
<line x1="18.45" y1="84.37" x2="20.75" y2="84.37"/>
<line x1="18.45" y1="72.06" x2="20.75" y2="72.06"/>
<line x1="18.45" y1="59.75" x2="22.65" y2="59.75"/>
<line x1="18.45" y1="47.44" x2="20.75" y2="47.44"/>
<line x1="18.45" y1="35.13" x2="20.75" y2="35.13"/>
</g>
<g font-size="10" fill="#111" stroke="#111" stroke-width="0.2">
<text x="87.05" y="218.7" text-anchor="middle">0.2</text>
<text x="155.65" y="218.7" text-anchor="middle">0.4</text>
<text x="224.25" y="218.7" text-anchor="middle">0.6</text>
<text x="292.85" y="218.7" text-anchor="middle">0.8</text>
<path d="M0.373 0L0.373 0.716L0.302 0.716Q0.27 0.62 0.095 0.565L0.095 0.49Q0.21 0.52 0.283 0.585L0.283 0Z" transform="translate(355.00,218.70) scale(10.000,-10.000)" fill="#111" stroke="#111" stroke-width="0.0200"/>
<text x="360.06" y="218.7">.0</text>
<text x="14.7" y="161.68" text-anchor="end">2</text>
<text x="14.7" y="112.44" text-anchor="end">4</text>
<text x="14.7" y="63.20" text-anchor="end">6</text>
</g>
<g font-family="Liberation Serif" fill="#111">
<g class="sf" stroke="#111" stroke-width="0.2">
<text x="1.1" y="13.5" font-size="14" textLength="16.0" lengthAdjust="spacingAndGlyphs">log</text>
<text x="20.0" y="13.5" font-size="14" font-style="italic">S</text>
<text x="28.6" y="15.7" font-size="9.7" font-style="italic">A</text>
<text x="379.0" y="210.8" font-size="14" font-style="italic">K</text>
<text x="389.5" y="212.8" font-size="9.6" stroke-width="0.05">1</text>
</g>
</g>
<g>
<line x1="413.7" y1="76.40" x2="435.8" y2="76.40" stroke="#0000ff" stroke-width="1.6"/>
<text x="444.0" y="80.70" font-size="15" font-style="italic" fill="#111" stroke="#111" stroke-width="0.3" style="font-family:'Liberation Serif',serif">ε</text>
<text x="450.2" y="81.50" font-size="14.5" fill="#111" stroke="#111" stroke-width="0.15">=</text>
<text x="458.25" y="80.45" font-size="14.9" textLength="19.35" lengthAdjust="spacingAndGlyphs" fill="#111" stroke="#111" stroke-width="0.15">0.2</text>
<line x1="413.7" y1="100.00" x2="435.8" y2="100.00" stroke="#00ff00" stroke-width="1.6"/>
<text x="444.0" y="104.30" font-size="15" font-style="italic" fill="#111" stroke="#111" stroke-width="0.3" style="font-family:'Liberation Serif',serif">ε</text>
<text x="450.2" y="105.10" font-size="14.5" fill="#111" stroke="#111" stroke-width="0.15">=</text>
<text x="458.25" y="104.05" font-size="14.9" textLength="19.35" lengthAdjust="spacingAndGlyphs" fill="#111" stroke="#111" stroke-width="0.15">0.4</text>
<line x1="413.7" y1="123.60" x2="435.8" y2="123.60" stroke="#ff8000" stroke-width="1.6"/>
<text x="444.0" y="127.90" font-size="15" font-style="italic" fill="#111" stroke="#111" stroke-width="0.3" style="font-family:'Liberation Serif',serif">ε</text>
<text x="450.2" y="128.70" font-size="14.5" fill="#111" stroke="#111" stroke-width="0.15">=</text>
<text x="458.25" y="127.65" font-size="14.9" textLength="19.35" lengthAdjust="spacingAndGlyphs" fill="#111" stroke="#111" stroke-width="0.15">0.6</text>
<line x1="413.7" y1="147.20" x2="435.8" y2="147.20" stroke="#ff0000" stroke-width="1.6"/>
<text x="444.0" y="151.50" font-size="15" font-style="italic" fill="#111" stroke="#111" stroke-width="0.3" style="font-family:'Liberation Serif',serif">ε</text>
<text x="450.2" y="152.30" font-size="14.5" fill="#111" stroke="#111" stroke-width="0.15">=</text>
<text x="458.25" y="151.25" font-size="14.9" textLength="19.35" lengthAdjust="spacingAndGlyphs" fill="#111" stroke="#111" stroke-width="0.15">0.8</text>
<line x1="413.7" y1="170.80" x2="435.8" y2="170.80" stroke="#808080" stroke-width="1.6"/>
<text x="444.0" y="175.10" font-size="15" font-style="italic" fill="#111" stroke="#111" stroke-width="0.3" style="font-family:'Liberation Serif',serif">ε</text>
<text x="450.2" y="175.90" font-size="14.5" fill="#111" stroke="#111" stroke-width="0.15">=</text>
<path d="M0.373 0L0.373 0.716L0.302 0.716Q0.27 0.62 0.095 0.565L0.095 0.49Q0.21 0.52 0.283 0.585L0.283 0Z" transform="translate(458.25,174.85) scale(14.155,-14.155)" fill="#111" stroke="#111" stroke-width="0.0106"/>
<text x="466.00" y="174.85" font-size="14.9" textLength="11.6" lengthAdjust="spacingAndGlyphs" fill="#111" stroke="#111" stroke-width="0.15">.0</text>
</g>
</svg>
</body></html>
